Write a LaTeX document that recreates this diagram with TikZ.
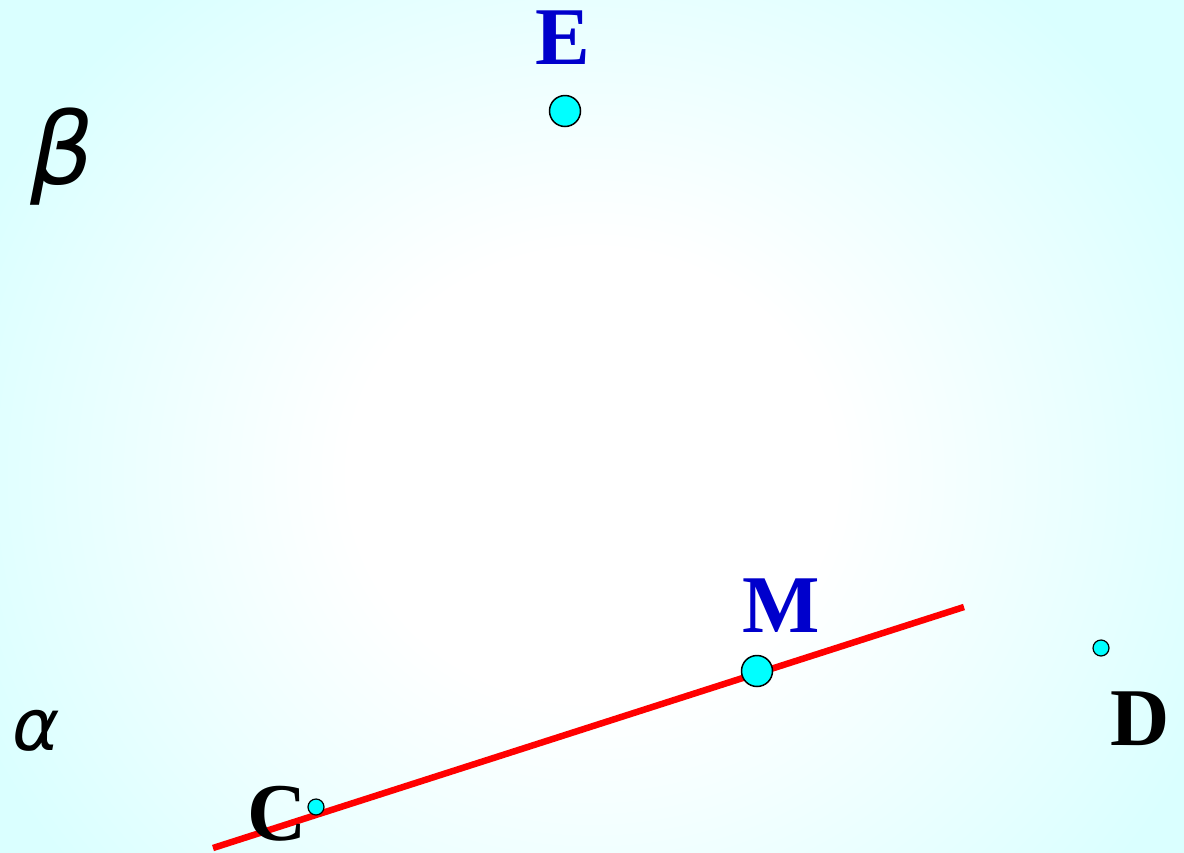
\documentclass[tikz,border=0pt]{standalone}
\usepackage{fontspec}
\setmainfont{Liberation Serif}
\newfontfamily\greekfont{DejaVu Sans}
\definecolor{ptblue}{RGB}{0,0,204}
\definecolor{bgcyan}{RGB}{218,255,255}
\definecolor{ptcyan}{RGB}{0,255,255}
\pgfdeclareradialshading{bgshade}{\pgfpoint{0bp}{0bp}}{color(0bp)=(white); color(9bp)=(white); color(25bp)=(bgcyan); color(50bp)=(bgcyan)}
\begin{document}
\begin{tikzpicture}[x=1pt,y=-1pt,
  bigpt/.style={circle,draw=black,line width=1.5pt,fill=ptcyan,minimum size=31pt,inner sep=0pt},
  smallpt/.style={circle,draw=black,line width=1.2pt,fill=ptcyan,minimum size=16pt,inner sep=0pt},
  lbl/.style={font=\fontsize{82}{82}\selectfont\bfseries,inner sep=0pt},
  greek/.style={font=\greekfont\itshape,inner sep=0pt}]
\useasboundingbox (0,0) rectangle (1184,852);
\shade[shading=bgshade] (-80,-150) rectangle (1264,1100);
\coordinate (L1) at (213,848);
\coordinate (L2) at (964,607);
\draw[red,line width=6.5pt] (L1) -- (L2);
\node[bigpt] (E) at (565,111) {};
\node[bigpt] (M) at (757,671) {};
\node[smallpt] (C) at (316,807) {};
\node[smallpt] (D) at (1101,648) {};
\node[lbl,text=ptblue] (lE) at (563,38) {E};
\node[lbl,text=ptblue] (lM) at (781,606) {M};
\node[lbl] (lC) at (277,814) {C};
\node[lbl] (lD) at (1140,719) {D};
\node[greek,font=\greekfont\itshape\fontsize{100}{100}\selectfont] (beta) at (62,157) {β};
\node[greek,font=\greekfont\itshape\fontsize{72}{72}\selectfont] (alpha) at (36,731) {α};
\end{tikzpicture}
\end{document}
